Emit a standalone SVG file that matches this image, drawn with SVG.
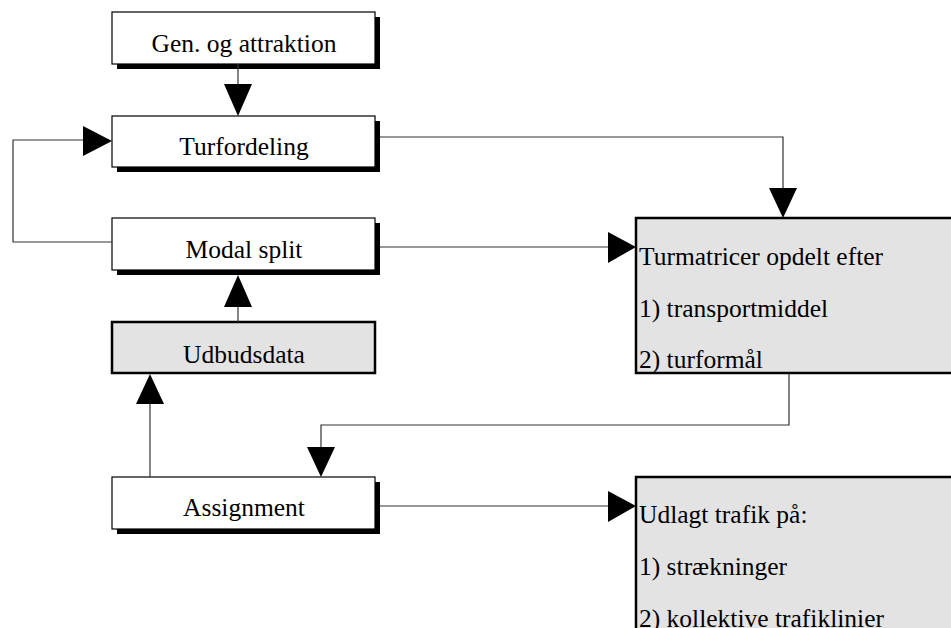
<svg xmlns="http://www.w3.org/2000/svg" width="951" height="628" viewBox="0 0 951 628">
<defs>
<style>
.box{fill:#fff;stroke:#000;stroke-width:1.2}
.shadow{fill:#000}
.gbox{fill:#e3e3e3;stroke:#000;stroke-width:2.5}
.lbl{font-family:"Liberation Serif","Times New Roman",serif;font-size:25.5px;fill:#000}
.ctr{text-anchor:middle}
.con{fill:none;stroke:#333;stroke-width:1.2}
.head{fill:#000}
</style>
</defs>
<rect width="951" height="628" fill="#fff"/>
<g id="node-gen">
<rect class="shadow" x="117" y="17" width="263" height="52"/>
<rect class="box" x="112" y="12" width="263" height="52"/>
<text class="lbl ctr" x="244" y="52">Gen. og attraktion</text>
</g>
<g id="node-turfordeling">
<rect class="shadow" x="117" y="121" width="263" height="51"/>
<rect class="box" x="112" y="116" width="263" height="51"/>
<text class="lbl ctr" x="244" y="155">Turfordeling</text>
</g>
<g id="node-modal">
<rect class="shadow" x="117" y="223" width="263" height="52"/>
<rect class="box" x="112" y="218" width="263" height="52"/>
<text class="lbl ctr" x="244" y="258">Modal split</text>
</g>
<g id="node-udbud">
<rect class="gbox" x="112" y="322" width="263" height="51"/>
<text class="lbl ctr" x="244" y="363">Udbudsdata</text>
</g>
<g id="node-assignment">
<rect class="shadow" x="117" y="482" width="263" height="52"/>
<rect class="box" x="112" y="477" width="263" height="52"/>
<text class="lbl ctr" x="244" y="516">Assignment</text>
</g>
<g id="node-turmatricer">
<rect class="gbox" x="636" y="218" width="340" height="155"/>
<text class="lbl" x="639" y="265">Turmatricer opdelt efter</text>
<text class="lbl" x="639" y="317">1) transportmiddel</text>
<text class="lbl" x="639" y="368">2) turformål</text>
</g>
<g id="node-udlagt">
<rect class="gbox" x="636" y="477" width="340" height="200"/>
<text class="lbl" x="639" y="523">Udlagt trafik på:</text>
<text class="lbl" x="639" y="575">1) strækninger</text>
<text class="lbl" x="639" y="627">2) kollektive trafiklinier</text>
</g>
<g id="connectors">
<path class="con" d="M238 64 V86"/>
<polygon class="head" points="224,84 252,84 238,116"/>
<path class="con" d="M112 242 H13 V140 H86"/>
<polygon class="head" points="83,126 83,156 112,141"/>
<path class="con" d="M380 137 H783 V190"/>
<polygon class="head" points="769,188 797,188 783,218"/>
<path class="con" d="M380 247 H610"/>
<polygon class="head" points="608,232 608,263 636,247"/>
<path class="con" d="M238 322 V305"/>
<polygon class="head" points="224,307 252,307 238,275"/>
<path class="con" d="M150 477 V402"/>
<polygon class="head" points="136,404 164,404 150,374"/>
<path class="con" d="M789 374 V425 H321 V449"/>
<polygon class="head" points="307,447 335,447 321,477"/>
<path class="con" d="M380 506 H610"/>
<polygon class="head" points="608,491 608,522 636,506"/>
</g>
</svg>
